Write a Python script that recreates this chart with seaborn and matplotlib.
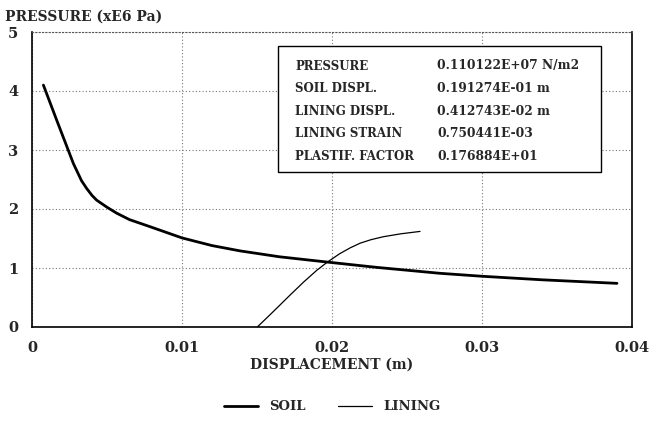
import matplotlib
matplotlib.use("Agg")
import matplotlib.pyplot as plt
import seaborn as sns

# soil curve (displacement in m, pressure in MPa)
soil_x = [0.00076, 0.00164, 0.0022, 0.00276, 0.0033, 0.00364, 0.0040, 0.00431, 0.0050,
          0.00564, 0.0065, 0.00787, 0.0100, 0.0120, 0.01387, 0.0165, 0.0197, 0.0230,
          0.0272, 0.0300, 0.0340, 0.0390]
soil_y = [4.10, 3.51, 3.14, 2.77, 2.48, 2.35, 2.23, 2.15, 2.03,
          1.93, 1.82, 1.70, 1.51, 1.38, 1.29, 1.19, 1.10, 1.01,
          0.91, 0.86, 0.80, 0.74]

# lining curve
lining_x = [0.01502, 0.0160, 0.0172, 0.0181, 0.01898, 0.01969, 0.0205, 0.0212,
            0.02187, 0.0226, 0.02342, 0.0246, 0.02587]
lining_y = [0.00, 0.24, 0.54, 0.76, 0.96, 1.10, 1.24, 1.34,
            1.42, 1.48, 1.53, 1.58, 1.62]

info_labels = ["PRESSURE", "SOIL DISPL.", "LINING DISPL.", "LINING STRAIN", "PLASTIF. FACTOR"]
info_values = ["0.110122E+07 N/m2", "0.191274E-01 m", "0.412743E-02 m",
               "0.750441E-03", "0.176884E+01"]

sns.set_style("white")
plt.rcParams['font.family'] = ['DejaVu Serif']
plt.rcParams['font.weight'] = 'bold'

fig = plt.figure(figsize=(6.58, 4.22), dpi=100)
ax = fig.add_axes([32 / 658, 1 - 327 / 422, 600 / 658, 295 / 422])

sns.lineplot(x=soil_x, y=soil_y, ax=ax, color="black", linewidth=2.0, label="SOIL",
             sort=False)
sns.lineplot(x=lining_x, y=lining_y, ax=ax, color="black", linewidth=0.9, label="LINING",
             sort=False)

ax.set_xlim(0, 0.04)
ax.set_ylim(0, 5)
ax.set_xticks([0, 0.01, 0.02, 0.03, 0.04])
ax.set_xticklabels(["0", "0.01", "0.02", "0.03", "0.04"])
ax.set_yticks([0, 1, 2, 3, 4, 5])
ax.grid(True, linestyle=(0, (1, 2)), color="#777777", linewidth=0.8)
ax.tick_params(direction="in", length=4, width=1, labelsize=10.5, color="black")
ax.tick_params(axis="x", pad=10)
ax.tick_params(axis="y", pad=10)
for lab in ax.get_xticklabels() + ax.get_yticklabels():
    lab.set_fontweight("bold")

for side in ["left", "bottom", "right"]:
    ax.spines[side].set_color("black")
    ax.spines[side].set_linewidth(1.2)
ax.spines["top"].set_linestyle((0, (1, 2)))
ax.spines["top"].set_color("#555555")

ax.set_xlabel("DISPLACEMENT (m)", fontsize=10, fontweight="bold", labelpad=2)
ax.set_ylabel("")
fig.text(5 / 658, 1 - 17 / 422, "PRESSURE (xE6 Pa)", fontsize=10, fontweight="bold",
         va="center", ha="left")

# info box
box = plt.Rectangle((278 / 658, 1 - 172 / 422), 323 / 658, 126 / 422,
                    transform=fig.transFigure, facecolor="white", edgecolor="black",
                    linewidth=1.0, zorder=5)
fig.patches.append(box)
for i, (lab, val) in enumerate(zip(info_labels, info_values)):
    yy = 1 - (66 + i * 22.6) / 422
    fig.text(295 / 658, yy, lab, fontsize=8.5, fontweight="bold", va="center", zorder=6)
    fig.text(437 / 658, yy, val, fontsize=8.8, fontweight="bold", va="center", zorder=6)

ax.legend(loc="center", bbox_to_anchor=(0.5, -0.27), ncol=2, frameon=False,
          handlelength=2.6, columnspacing=2.5,
          prop={"weight": "bold", "size": 9.5})

fig.savefig("out.png", dpi=100)
